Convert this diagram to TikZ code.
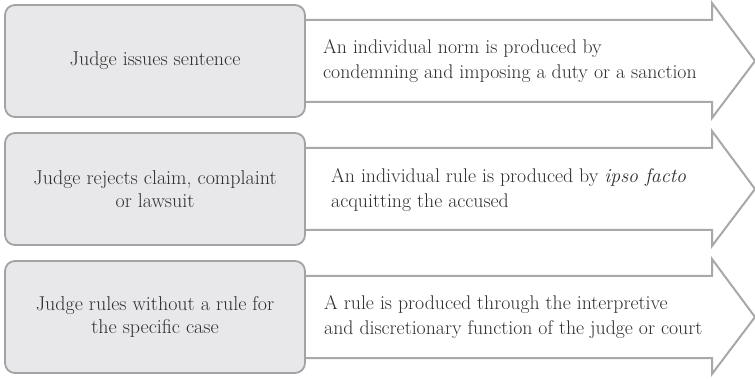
\documentclass[tikz,border=0pt]{standalone}
\definecolor{boxfill}{HTML}{E8E8EA}
\definecolor{boxline}{HTML}{A3A3A5}
\definecolor{arrline}{HTML}{A8A8A8}
\definecolor{txt}{HTML}{2E2E2E}
\tikzset{
  x=1pt,y=-1pt,
  leftbox/.style={draw=boxline,line width=1.8pt,fill=boxfill,rounded corners=10pt,
    minimum width=300pt,minimum height=112pt,align=center,text=txt,
    font=\fontsize{20}{23.5}\selectfont,inner sep=0pt},
  arrshape/.style={draw=arrline,line width=2pt,fill=white,line join=miter},
  righttext/.style={anchor=west,align=left,text=txt,font=\fontsize{19.8}{24.5}\selectfont,inner sep=0pt}
}
\begin{document}
\begin{tikzpicture}
\useasboundingbox (0,0) rectangle (755,379);
\foreach \cy/\nm in {61/a,189/b,317/c}{
  \coordinate (\nm s) at (250,\cy);
  \draw[arrshape] (250,\cy-41) -- (712,\cy-41) -- (712,\cy-58) -- (755,\cy) -- (712,\cy+57) -- (712,\cy+41) -- (250,\cy+41) -- cycle;
}
\node[leftbox] (a) at (155,61) {Judge issues sentence};
\node[leftbox] (b) at (155,189) {Judge rejects claim, complaint\\or lawsuit};
\node[leftbox] (c) at (155,317) {Judge rules without a rule for\\the specific case};
\node[righttext] (ta) at (323,61) {An individual norm is produced by\\condemning and imposing a duty or a sanction};
\node[righttext] (tb) at (331,190) {An individual rule is produced by \textit{ipso facto}\\acquitting the accused};
\node[righttext] (tc) at (324,317) {A rule is produced through the interpretive\\and discretionary function of the judge or court};
\end{tikzpicture}
\end{document}
